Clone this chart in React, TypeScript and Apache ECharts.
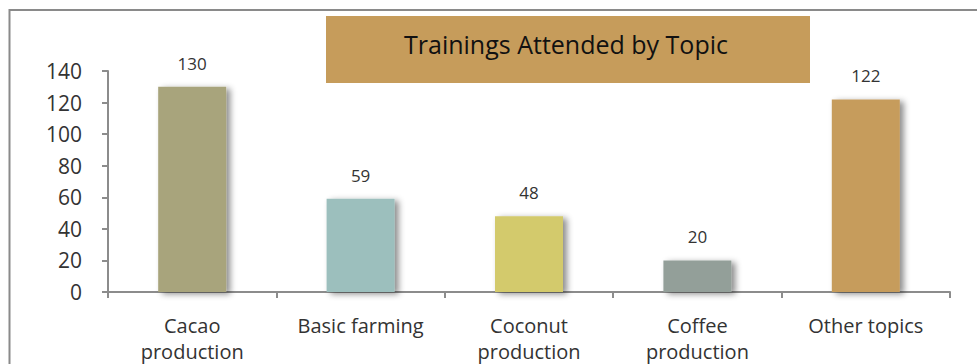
import React, { useEffect, useRef } from "react";
import * as echarts from "echarts";

// Training topics and attendance counts
const categories = [
  "Cacao\nproduction",
  "Basic farming",
  "Coconut\nproduction",
  "Coffee\nproduction",
  "Other topics",
];
const attendance = [130, 59, 48, 20, 122];
const barColors = ["#A8A47B", "#9CBFBD", "#D3CA6C", "#939F99", "#C69C5C"];
const yTicks = { min: 0, max: 140, interval: 20 };
const titleText = "Trainings Attended by Topic";

const FONT = "'Open Sans', 'Noto Sans', sans-serif";

export default function App() {
  const ref = useRef<HTMLDivElement>(null);

  useEffect(() => {
    if (!ref.current) return;
    const chart = echarts.init(ref.current, undefined, { renderer: "svg" });
    chart.setOption({
      animation: false,
      backgroundColor: "#ffffff",
      grid: { left: 108, right: 27, top: 71, bottom: 71, containLabel: false },
      graphic: [
        {
          type: "rect",
          shape: { x: 9.5, y: 10, width: 1000, height: 400 },
          style: { fill: "none", stroke: "#8a8a8a", lineWidth: 2 },
          silent: true,
        },
        {
          type: "rect",
          shape: { x: 326, y: 16, width: 484, height: 67 },
          style: { fill: "#C69C5B" },
          silent: true,
        },
        {
          type: "text",
          x: 566,
          y: 44,
          style: {
            text: titleText,
            font: `25px ${FONT}`,
            fill: "#111111",
            textAlign: "center",
            textVerticalAlign: "middle",
          },
          silent: true,
        },
      ],
      xAxis: {
        type: "category",
        data: categories,
        axisLine: { lineStyle: { color: "#8c8c8c", width: 2 } },
        axisTick: { show: true, length: 6, lineStyle: { color: "#8c8c8c", width: 2 } },
        axisLabel: {
          color: "#333333",
          fontFamily: FONT,
          fontSize: 20,
          lineHeight: 26,
          margin: 20,
          interval: 0,
        },
      },
      yAxis: {
        type: "value",
        min: yTicks.min,
        max: yTicks.max,
        interval: yTicks.interval,
        splitLine: { show: false },
        axisLine: { show: true, lineStyle: { color: "#8c8c8c", width: 2 } },
        axisTick: { show: true, length: 6, lineStyle: { color: "#8c8c8c", width: 2 } },
        axisLabel: {
          color: "#333333",
          fontFamily: FONT,
          fontSize: 21,
          margin: 26,
        },
      },
      series: [
        {
          type: "bar",
          barWidth: 68,
          data: attendance.map((v, i) => ({
            value: v,
            itemStyle: {
              color: barColors[i],
              shadowColor: "rgba(0,0,0,0.45)",
              shadowBlur: 6,
              shadowOffsetX: 4,
              shadowOffsetY: 2,
            },
          })),
          label: {
            show: true,
            position: "top",
            distance: 15,
            color: "#333333",
            fontFamily: FONT,
            fontSize: 17,
          },
        },
      ],
    });
    return () => chart.dispose();
  }, []);

  return (
    <div
      ref={ref}
      style={{ position: "fixed", left: 0, top: 0, width: 977, height: 364 }}
    />
  );
}
